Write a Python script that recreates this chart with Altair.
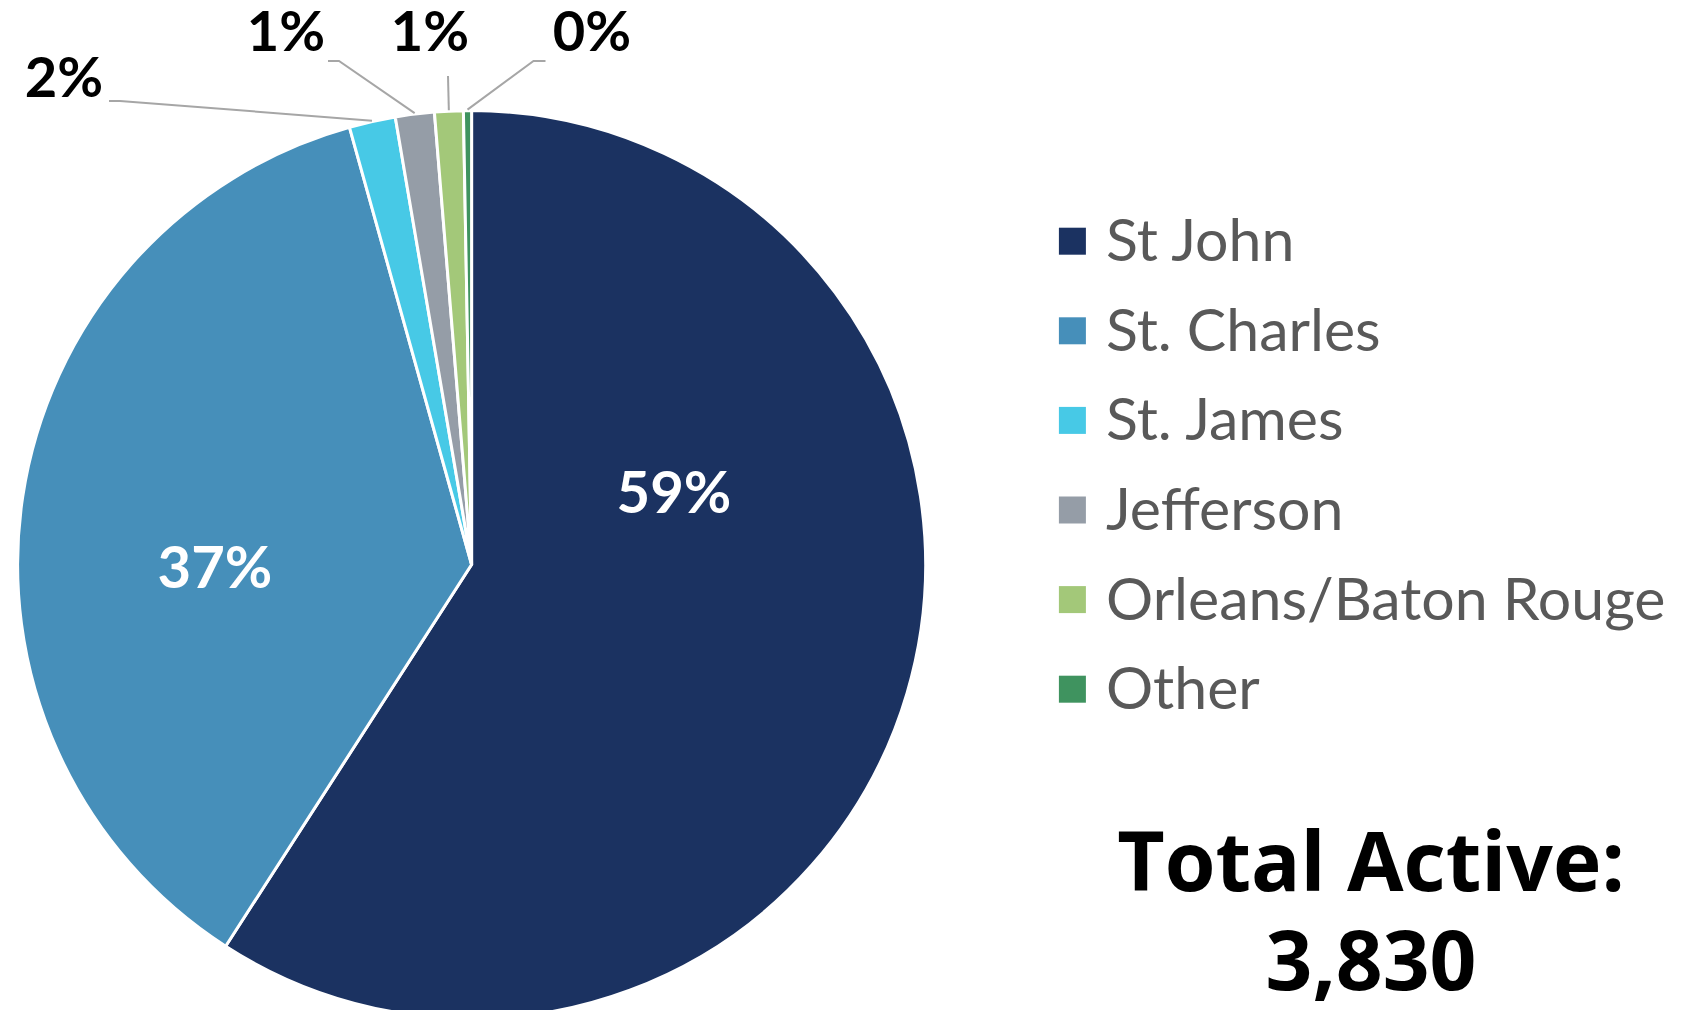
import math
import altair as alt
import pandas as pd

# ---- data ----
categories = ["St John", "St. Charles", "St. James", "Jefferson", "Orleans/Baton Rouge", "Other"]
counts = [2264, 1400, 63, 53, 39, 11]
colors = ["#1B3261", "#468FBA", "#47C9E6", "#959DA7", "#A3C879", "#3F935F"]
total_active = 3830

# ---- layout ----
PT = 12                      # top padding
OY = 8 + PT                  # page y of plot origin
OX = 8
W, H = 1680, 1002 - PT
CX, CY, R = 471.6 - OX, 564.6 - OY, 454
# label anchor positions in page coords (layout)
label_xy_page = [(674, 496), (215, 571), (64, 80), (286, 34), (430, 34), (592, 34)]
# leader line start/elbow points in page coords (layout)
leader_pts_page = {
    2: [(109, 101), (120, 101)],
    3: [(328, 61), (339, 61)],
    4: [(448, 76)],
    5: [(545.5, 61), (533.5, 61)],
}

total = sum(counts)
df = pd.DataFrame({"cat": categories, "count": counts, "order": list(range(len(categories)))})

pct = [f"{round(c / total * 100):.0f}%" for c in counts]
lab = pd.DataFrame({
    "cat": categories,
    "txt": pct,
    "px": [p[0] - OX for p in label_xy_page],
    "py": [p[1] - OY for p in label_xy_page],
    "inside": [True, True, False, False, False, False],
})

rows = []
cum = 0
for i, c in enumerate(counts):
    mid = (cum + c / 2) / total * 2 * math.pi
    cum += c
    if i in leader_pts_page:
        pts = [(x - OX, y - OY) for x, y in leader_pts_page[i]]
        pts.append((CX + (R + 1) * math.sin(mid), CY - (R + 1) * math.cos(mid)))
        for k, (x, y) in enumerate(pts):
            rows.append({"cat": categories[i], "seq": k, "px": x, "py": y})
lines = pd.DataFrame(rows)

xs = alt.Scale(domain=[0, W], range=[0, W], nice=False, zero=False)
ys = alt.Scale(domain=[0, H], range=[0, H], nice=False, zero=False)

pie = alt.Chart(df).mark_arc(outerRadius=R, stroke="white", strokeWidth=3).encode(
    theta=alt.Theta("count:Q", stack=True),
    color=alt.Color("cat:N", scale=alt.Scale(domain=categories, range=colors), legend=None),
    order=alt.Order("order:Q"),
    x=alt.value(CX),
    y=alt.value(CY),
)

leaders = alt.Chart(lines).mark_line(color="#A6A6A6", strokeWidth=2).encode(
    x=alt.X("px:Q", scale=xs, axis=None),
    y=alt.Y("py:Q", scale=ys, axis=None),
    detail="cat:N",
    order="seq:Q",
)

in_labels = alt.Chart(lab[lab.inside]).mark_text(
    font="Lato", fontWeight="bold", fontSize=58, color="white", align="center", baseline="middle"
).encode(
    x=alt.X("px:Q", scale=xs, axis=None),
    y=alt.Y("py:Q", scale=ys, axis=None),
    text="txt:N",
)

out_labels = alt.Chart(lab[~lab.inside]).mark_text(
    font="Lato", fontWeight="bold", fontSize=56, color="black", align="center", baseline="middle"
).encode(
    x=alt.X("px:Q", scale=xs, axis=None),
    y=alt.Y("py:Q", scale=ys, axis=None),
    text="txt:N",
)

leg0 = 241.2 - OY
leg_y = alt.Scale(type="point", domain=categories, range=[leg0, leg0 + 5 * 89.6], padding=0)
leg_sq = alt.Chart(df).mark_square(size=729, opacity=1).encode(
    x=alt.value(1072.4 - OX),
    y=alt.Y("cat:N", scale=leg_y, axis=None),
    color=alt.Color("cat:N", scale=alt.Scale(domain=categories, range=colors), legend=None),
)
leg_txt = alt.Chart(df).mark_text(
    font="Lato", fontSize=59, color="#595959", align="left", baseline="middle", dy=2
).encode(
    x=alt.value(1106 - OX),
    y=alt.Y("cat:N", scale=leg_y, axis=None),
    text="cat:N",
)

total_lines = ["Total Active:", f"{total_active:,}"]
tot = alt.Chart(df.head(1)).mark_text(
    font="Open Sans", fontWeight="bold", fontSize=82, color="black", align="center",
    baseline="middle", lineHeight=99,
).encode(x=alt.value(1371 - OX), y=alt.value(866 - OY), text=alt.value(total_lines))

chart = alt.layer(pie, leaders, in_labels, out_labels, leg_sq, leg_txt, tot).resolve_scale(
    x="independent", y="independent"
).properties(
    width=W, height=H, autosize=alt.AutoSizeParams(type="none"),
    padding={"top": PT, "left": 0, "right": 0, "bottom": 0},
).configure_view(stroke=None)

chart.save("out.html", embed_options={"renderer": "svg", "actions": False})
